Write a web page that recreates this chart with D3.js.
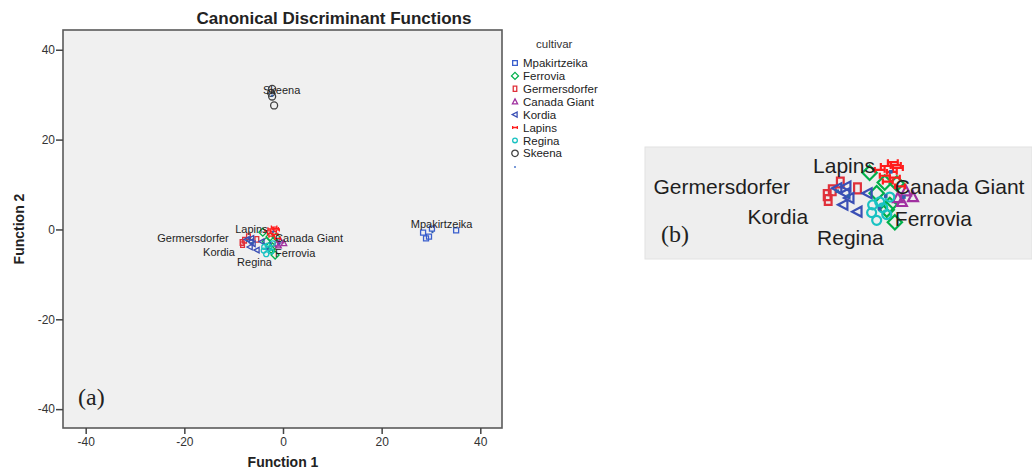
<!DOCTYPE html>
<html><head><meta charset="utf-8">
<script src="https://cdn.jsdelivr.net/npm/d3@7"></script>
<style>body{margin:0;background:#fff}svg{display:block}text{font-family:"Liberation Sans",Arial,sans-serif}</style>
</head><body>
<svg id="chart" width="1032" height="472"></svg>
<script>
// ---- data ----
const cultivars = ["Mpakirtzeika","Ferrovia","Germersdorfer","Canada Giant","Kordia","Lapins","Regina","Skeena"];
const mpakirtzeika = [[28.4,-0.7],[30.2,0.2],[29.0,-2.0],[29.6,-1.6],[35.1,-0.2]];
const ferrovia = [[-4.1,-0.6],[-3.4,-2.7],[-2.4,-4.4],[-1.6,-5.7],[-2.1,-3.9],[-2.6,-1.6],[-1.4,-1.7]];
const germersdorfer = [[-8.3,-2.9],[-7.8,-2.4],[-7.0,-1.6],[-5.3,-2.2],[-8.2,-3.4]];
const canadaGiant = [[0.2,-3.1],[-0.9,-3.6],[-1.3,-3.2],[-0.5,-2.5]];
const kordia = [[-7.3,-2.2],[-6.5,-2.7],[-6.1,-3.2],[-6.7,-3.9],[-5.3,-4.6],[-4.3,-2.7],[-6.4,-2.0]];
const lapins = [[-3.1,-0.3],[-2.5,0.1],[-1.9,-0.5],[-1.3,-0.1],[-1.6,-1.1],[-2.3,-1.5],[-1.1,-2.0],[-2.6,-0.9],[-1.8,0.5],[-1.5,0.2]];
const regina = [[-3.8,-3.9],[-3.9,-4.7],[-3.4,-5.5],[-2.8,-4.2],[-3.1,-3.6],[-2.1,-3.1],[-2.4,-4.9]];
const skeena = [[-2.2,31.3],[-2.4,30.4],[-2.2,29.6],[-1.8,27.6]];
const groupCentroids = [[30.3,-0.6],[-2.5,-3.0],[-7.3,-2.5],[-0.7,-3.1],[-6.2,-3.0],[-2.0,-0.5],[-3.1,-4.3],[-2.2,29.8]];
const seriesPoints = [mpakirtzeika, ferrovia, germersdorfer, canadaGiant, kordia, lapins, regina, skeena];
// label anchors (data coordinates, text starts here)
const labelNames = ["Mpakirtzeika","Lapins","Germersdorfer","Canada Giant","Kordia","Ferrovia","Regina","Skeena"];
const labelPos = [[25.9,1.3],[-9.7,0.2],[-25.5,-2.0],[-1.6,-2.0],[-16.2,-5.1],[-1.6,-5.3],[-9.3,-7.3],[-4.05,31.1]];
const tickValues = [-40,-20,0,20,40];

// ---- styles ----
const colors = ["#3a5fcd","#00b04a","#e0303a","#a030a0","#3a4fb5","#ff1c1c","#19c2c2","#404040"];
const symRect = {draw(c,size){const s=Math.sqrt(size);const w=s*0.75,h=s*1.1;c.rect(-w/2,-h/2,w,h);}};
const symSquare = {draw(c,size){const s=Math.sqrt(size);c.rect(-s/2,-s/2,s,s);}};
const symDiamond = {draw(c,size){const s=Math.sqrt(size)*0.75;c.moveTo(0,-s);c.lineTo(s,0);c.lineTo(0,s);c.lineTo(-s,0);c.closePath();}};
const symTri = {draw(c,size){const s=Math.sqrt(size);c.moveTo(0,-s*0.6);c.lineTo(s*0.55,s*0.45);c.lineTo(-s*0.55,s*0.45);c.closePath();}};
const symLeftTri = {draw(c,size){const s=Math.sqrt(size);c.moveTo(-s*0.6,0);c.lineTo(s*0.45,-s*0.55);c.lineTo(s*0.45,s*0.55);c.closePath();}};
const symBar = {draw(c,size){const s=Math.sqrt(size);c.moveTo(-s/2,0);c.lineTo(s/2,0);c.moveTo(-s/2,-s*0.3);c.lineTo(-s/2,s*0.3);c.moveTo(s/2,-s*0.3);c.lineTo(s/2,s*0.3);}};
const symCircle = {draw(c,size){const r=Math.sqrt(size)/2;c.moveTo(r,0);c.arc(0,0,r,0,2*Math.PI);}};
const shapes = [symSquare,symDiamond,symRect,symTri,symLeftTri,symBar,symCircle,symCircle];
const sizeA = [25,28,25,25,25,30,25,49];

const svg = d3.select("#chart");

// ---- panel (a) ----
const xA = d3.scaleLinear().domain([-44.6,44.4]).range([63,502]);
const yA = d3.scaleLinear().domain([-44.2,44.4]).range([428,30]);

svg.append("rect").attr("x",63).attr("y",30).attr("width",439).attr("height",398)
  .attr("fill","#f0f0f0").attr("stroke","#5a5a5a").attr("stroke-width",1.6);

const gx = svg.append("g").attr("transform","translate(0,428)")
  .call(d3.axisBottom(xA).tickValues(tickValues).tickSize(6).tickPadding(3).tickFormat(d=>String(d)));
const gy = svg.append("g").attr("transform","translate(63,0)")
  .call(d3.axisLeft(yA).tickValues(tickValues).tickSize(7).tickPadding(1).tickFormat(d=>String(d)));
[gx,gy].forEach(g=>{g.select(".domain").remove();
  g.selectAll(".tick line").attr("stroke","#444").attr("stroke-width",1.5);
  g.selectAll(".tick text").attr("fill","#333").style("font-size","12px").style("font-family","'Liberation Sans',Arial,sans-serif");});

svg.append("text").attr("x",334).attr("y",24).attr("text-anchor","middle")
  .style("font-size","17px").style("font-weight","bold").attr("fill","#222").text("Canonical Discriminant Functions");
svg.append("text").attr("x",283).attr("y",467).attr("text-anchor","middle")
  .style("font-size","14px").style("font-weight","bold").attr("fill","#222").text("Function 1");
svg.append("text").attr("transform","translate(24,229) rotate(-90)").attr("text-anchor","middle")
  .style("font-size","14px").style("font-weight","bold").attr("fill","#222").text("Function 2");

function drawPoints(g, xs, ys, scaleK, sw){
  seriesPoints.forEach((pts,i)=>{
    const sym = d3.symbol().type(shapes[i]).size(sizeA[i]*scaleK*scaleK);
    g.selectAll(null).data(pts).join("path")
      .attr("transform",d=>`translate(${xs(d[0])},${ys(d[1])})`)
      .attr("d",sym).attr("fill","none").attr("stroke",colors[i]).attr("stroke-width",sw);
  });
  g.selectAll(null).data(groupCentroids).join("rect")
    .attr("x",d=>xs(d[0])-1*scaleK).attr("y",d=>ys(d[1])-1*scaleK)
    .attr("width",2*scaleK).attr("height",2*scaleK).attr("fill","#2f5fae");
}
function drawLabels(g, xs, ys, fs){
  g.selectAll(null).data(labelNames).join("text")
    .attr("x",(d,i)=>xs(labelPos[i][0])).attr("y",(d,i)=>ys(labelPos[i][1]))
    .attr("dy","0.36em").style("font-size",fs+"px").attr("fill","#1e1e1e").text(d=>d);
}
const gA = svg.append("g");
drawPoints(gA, xA, yA, 1, 1.3);
drawLabels(gA, xA, yA, 11);

svg.append("text").attr("x",78).attr("y",405).style("font-family","'Liberation Serif','Times New Roman',serif")
  .style("font-size","24px").attr("fill","#222").text("(a)");

// ---- legend ----
const lg = svg.append("g");
lg.append("text").attr("x",536).attr("y",48).style("font-size","11.5px").attr("fill","#333").text("cultivar");
cultivars.forEach((c,i)=>{
  const y = 63 + i*12.9;
  lg.append("path").attr("transform",`translate(515,${y})`)
    .attr("d",d3.symbol().type(shapes[i]).size(i===7?42:22)())
    .attr("fill","none").attr("stroke",colors[i]).attr("stroke-width",1.3);
  lg.append("text").attr("x",523).attr("y",y).attr("dy","0.36em").style("font-size","11.5px").attr("fill","#222").text(c);
});
lg.append("rect").attr("x",514).attr("y",166).attr("width",2).attr("height",2).attr("fill","#7a9ad8");

// ---- panel (b) zoom ----
const xB = d3.scaleLinear().domain([-26.34,11.98]).range([645,1032]);
const yB = d3.scaleLinear().domain([-9.48,2.06]).range([259,147]);
svg.append("defs").append("clipPath").attr("id","clipB")
  .append("rect").attr("x",645).attr("y",147).attr("width",387).attr("height",112);
svg.append("rect").attr("x",645).attr("y",147).attr("width",387).attr("height",112)
  .attr("fill","#eeeeee").attr("stroke","#e2e2e2");
const gB = svg.append("g").attr("clip-path","url(#clipB)");
drawPoints(gB, xB, yB, 1.8, 2.2);
drawLabels(gB, xB, yB, 21);
svg.append("text").attr("x",661).attr("y",242).style("font-family","'Liberation Serif','Times New Roman',serif")
  .style("font-size","24px").attr("fill","#222").text("(b)");
</script>
</body></html>
